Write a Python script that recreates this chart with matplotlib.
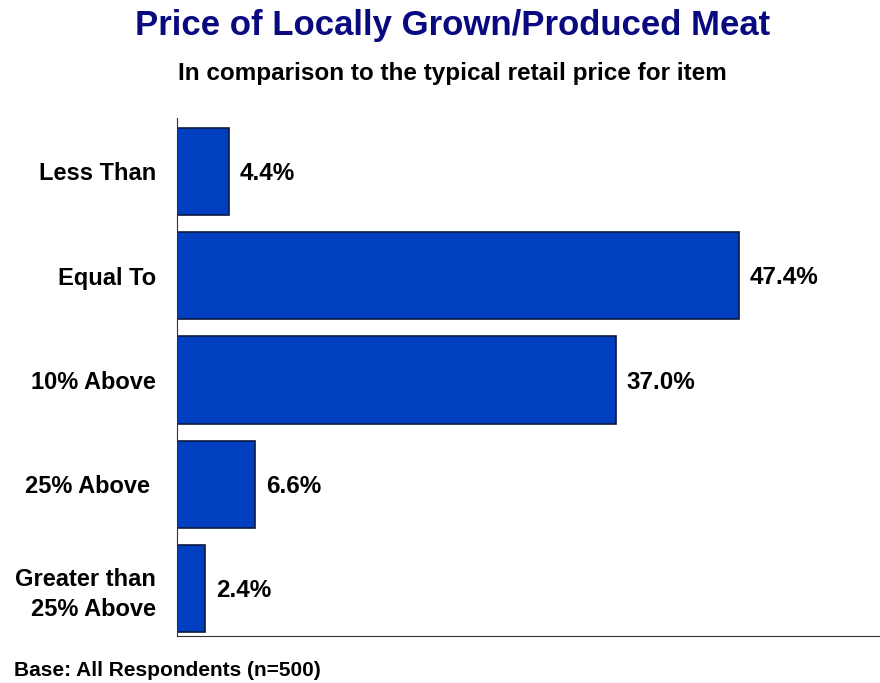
import matplotlib.pyplot as plt

plt.rcParams['font.family'] = ['Liberation Sans', 'DejaVu Sans']

categories = ["Less Than", "Equal To", "10% Above", "25% Above ", "Greater than\n25% Above"]
values = [4.4, 47.4, 37.0, 6.6, 2.4]
value_labels = ["4.4%", "47.4%", "37.0%", "6.6%", "2.4%"]

fig = plt.figure(figsize=(8.8, 6.83), dpi=100)
ax = fig.add_axes([0.2011, 0.0688, 0.7989, 0.7584])

ypos = list(range(len(categories)))
ax.barh(ypos, values, height=0.835, color="#0040C0", edgecolor="#0A1A40", linewidth=1.2)

for y, v, lab in zip(ypos, values, value_labels):
    ax.text(v + 0.9, y + 0.02, lab, va="center", ha="left", fontsize=17.5, fontweight="bold")

ax.set_xlim(0, 59.3)
ax.set_ylim(4.456, -0.513)
ax.set_yticks(ypos)
ax.set_yticklabels(categories, fontsize=17, fontweight="bold", linespacing=1.38)
ax.tick_params(axis="y", length=0, pad=15)
ax.set_xticks([])
for s in ["top", "right"]:
    ax.spines[s].set_visible(False)
ax.spines["left"].set_color("#333333")
ax.spines["bottom"].set_color("#333333")

fig.text(0.514, 0.962, "Price of Locally Grown/Produced Meat", ha="center", va="center",
         fontsize=25, fontweight="bold", color="#0A0A80")
fig.text(0.514, 0.893, "In comparison to the typical retail price for item", ha="center",
         va="center", fontsize=17.5, fontweight="bold")
fig.text(0.016, 0.018, "Base: All Respondents (n=500)", ha="left", va="center",
         fontsize=15, fontweight="bold")

plt.savefig("out.png", dpi=100)
